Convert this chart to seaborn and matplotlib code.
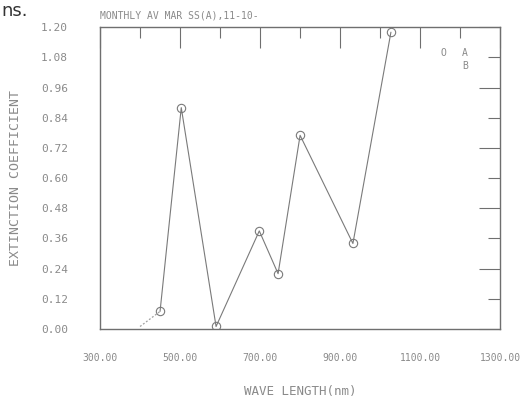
import matplotlib
matplotlib.use("Agg")
import matplotlib.pyplot as plt
import seaborn as sns
import pandas as pd
from matplotlib.ticker import MultipleLocator, FormatStrFormatter

# series A (circles, solid line)
wave_a = [450, 503, 590, 698, 745, 800, 932, 1027]
ext_a = [0.07, 0.88, 0.01, 0.39, 0.22, 0.77, 0.34, 1.18]
# series B (dotted)
wave_b = [400, 450]
ext_b = [0.01, 0.07]

title = "MONTHLY AV MAR SS(A),11-10-"
xlabel = "WAVE LENGTH(nm)"
ylabel = "EXTINCTION COEFFICIENT"

df_a = pd.DataFrame({"wave": wave_a, "ext": ext_a})
df_b = pd.DataFrame({"wave": wave_b, "ext": ext_b})

sns.set_style("white")
plt.rcParams['font.family'] = ['DejaVu Sans Mono']

txt = "#8a8a8a"
ax_col = "#6f6f6f"

fig = plt.figure(figsize=(5.21, 4.03), dpi=100)
ax = fig.add_axes([0.192, 0.1836, 0.768, 0.749])

sns.lineplot(data=df_b, x="wave", y="ext", ax=ax, color="#a0a0a0",
             linestyle=(0, (1.5, 1.5)), linewidth=0.9)
sns.lineplot(data=df_a, x="wave", y="ext", ax=ax, color="#7a7a7a",
             linewidth=0.8, marker="o", markersize=6, markerfacecolor="none",
             markeredgecolor="#7a7a7a", markeredgewidth=0.8)

ax.set_xlim(300, 1300)
ax.set_ylim(0, 1.20)

ax.xaxis.set_major_locator(MultipleLocator(200, offset=100))
ax.xaxis.set_minor_locator(MultipleLocator(100))
ax.xaxis.set_major_formatter(FormatStrFormatter("%.2f"))
ax.yaxis.set_major_locator(MultipleLocator(0.24))
ax.yaxis.set_minor_locator(MultipleLocator(0.12))
ax.yaxis.set_major_formatter(FormatStrFormatter("%.2f"))
ax.yaxis.set_minor_formatter(FormatStrFormatter("%.2f"))

ax.tick_params(which="both", direction="in", top=True, right=True,
               colors=ax_col, labelcolor=txt, labelsize=8, width=0.8)
ax.tick_params(axis="x", which="both", labelsize=7)
ax.tick_params(axis="x", which="major", length=15, pad=17)
ax.tick_params(axis="x", which="minor", length=8)
ax.tick_params(axis="y", which="major", length=15, pad=23)
ax.tick_params(axis="y", which="minor", length=9, pad=23)

for s in ax.spines.values():
    s.set_color(ax_col)
    s.set_linewidth(1.0)

ax.set_xlabel(xlabel, color=txt, fontsize=9)
ax.xaxis.set_label_coords(0.5, -0.185)
ax.set_ylabel(ylabel, color=txt, fontsize=9.5)
ax.yaxis.set_label_coords(-0.195, 0.5)
ax.set_title(title, color=txt, fontsize=7, loc="left", pad=6)

# legend drawn as text like the plotter output
ax.text(0.852, 0.905, "O", transform=ax.transAxes, color=txt, fontsize=7)
ax.text(0.905, 0.905, "A", transform=ax.transAxes, color=txt, fontsize=7)
ax.text(0.905, 0.86, "B", transform=ax.transAxes, color=txt, fontsize=7)

fig.text(0.003, 0.995, "ns.", fontsize=13, color="#333333", va="top",
         family="DejaVu Sans")

fig.savefig("out.png", dpi=100)
